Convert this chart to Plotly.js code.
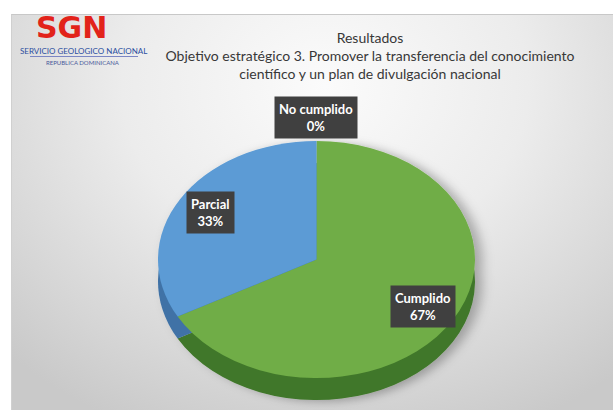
<!DOCTYPE html>
<html>
<head>
<meta charset="utf-8">
<script src="https://cdn.plot.ly/plotly-3.0.1.min.js"></script>
<style>
  html, body { margin:0; padding:0; background:#ffffff; }
  #wrap { position:relative; width:613px; height:410px; background:#ffffff; overflow:hidden; }
  #bg { position:absolute; left:11px; top:14px; width:602px; height:396px;
        background: radial-gradient(ellipse 75% 95% at 52% 18%, #fbfbfb 0%, #ececec 45%, #d6d6d6 80%, #c9c9c9 100%);
        border-top:1px solid #c8c8c8; border-left:1px solid #d0d0d0; }
  #chart { position:absolute; left:0; top:0; width:613px; height:410px; }
</style>
</head>
<body>
<div id="wrap"><div id="bg"></div><div id="chart"></div></div>
<script>
// ---- data ----
const categories = ['Cumplido', 'Parcial', 'No cumplido'];
const values = [67, 33, 0];
const topColors = ['#70ad47', '#5b9bd5', '#a5a5a5'];
const sideColors = ['#40772a', '#3f72a6', '#7a7a7a'];
const titleLines = ['Resultados',
  'Objetivo estratégico 3. Promover la transferencia del conocimiento',
  'científico y un plan de divulgación nacional'];
const logoMain = 'SGN';
const logoSub = 'SERVICIO GEOLOGICO NACIONAL';
const logoSub2 = 'REPUBLICA DOMINICANA';

// ---- geometry (pixels) ----
const W = 613, H = 410;
const cxF = 316.5, cyF = 259.5;   // final center of top face
const R = 158.5;                  // horizontal radius
const squash = 0.748;             // vertical / horizontal
const depth = 22;                 // visible thickness after squash
const cyP = 205;                  // plotly (unsquashed) center from top
const depthP = depth / squash;

function dom(cyTop) {
  const yb = H - cyTop;
  return { x: [(cxF - R) / W, (cxF + R) / W], y: [(yb - R) / H, (yb + R) / H] };
}

const total = values.reduce((a, b) => a + b, 0);

const sideTrace = {
  type: 'pie', values: values, labels: categories, sort: false,
  direction: 'clockwise', rotation: 0, textinfo: 'none', hoverinfo: 'skip',
  marker: { colors: sideColors, line: { width: 0 } },
  domain: dom(cyP + depthP), showlegend: false
};
const topTrace = {
  type: 'pie', values: values, labels: categories, sort: false,
  direction: 'clockwise', rotation: 0, textinfo: 'none', hoverinfo: 'skip',
  marker: { colors: topColors, line: { width: 0 } },
  domain: dom(cyP), showlegend: false
};

// data labels placed along each slice bisector on the ellipse
const annotations = [];
let cum = 0;
values.forEach((v, i) => {
  const mid = (cum + v / 2) / total * 2 * Math.PI;
  cum += v;
  const k = v > 0 ? 0.78 : 1.2;
  const px = cxF + k * R * Math.sin(mid);
  const py = cyF - k * R * squash * Math.cos(mid);
  annotations.push({
    xref: 'paper', yref: 'paper', x: px / W, y: 1 - py / H,
    xanchor: 'center', yanchor: 'middle', showarrow: false,
    text: '<b>' + categories[i] + '<br>' + Math.round(v / total * 100) + '%</b>',
    font: { family: 'Lato, "Open Sans", sans-serif', size: 13, color: '#ffffff' },
    bgcolor: '#404040', borderpad: 4, align: 'center'
  });
});

// logo
annotations.push({ xref: 'paper', yref: 'paper', x: 71 / W, y: 1 - 27.5 / H, xanchor: 'center', yanchor: 'middle',
  showarrow: false, text: '<b>' + logoMain + '</b>',
  font: { family: '"DejaVu Sans", sans-serif', size: 30, color: '#e2231a' } });
annotations.push({ xref: 'paper', yref: 'paper', x: 83 / W, y: 1 - 51 / H, xanchor: 'center', yanchor: 'middle',
  showarrow: false, text: logoSub,
  font: { family: 'Lato, sans-serif', size: 8, color: '#2b4fa0' } });
annotations.push({ xref: 'paper', yref: 'paper', x: 83 / W, y: 1 - 62 / H, xanchor: 'center', yanchor: 'middle',
  showarrow: false, text: logoSub2,
  font: { family: 'Lato, sans-serif', size: 6, color: '#4a5a9a' } });

const layout = {
  width: W, height: H,
  margin: { l: 0, r: 0, t: 0, b: 0, pad: 0 },
  paper_bgcolor: 'rgba(0,0,0,0)', plot_bgcolor: 'rgba(0,0,0,0)',
  showlegend: false,
  title: {
    text: titleLines.join('<br>'),
    x: 370 / W, xanchor: 'center', y: 1 - 43 / H, yanchor: 'top',
    font: { family: 'Lato, "Open Sans", sans-serif', size: 14, color: '#383838' }
  },
  shapes: [{ type: 'line', xref: 'paper', yref: 'paper', x0: 30 / W, x1: 138 / W,
    y0: 1 - 56.5 / H, y1: 1 - 56.5 / H, line: { color: '#7b86c4', width: 1 } }],
  annotations: annotations
};

Plotly.newPlot('chart', [sideTrace, topTrace], layout, { staticPlot: true, displayModeBar: false }).then(gd => {
  const pl = gd.querySelector('.pielayer');
  if (!pl) return;
  const ty = cyF - squash * cyP;
  pl.setAttribute('transform', 'translate(0,' + ty + ') scale(1,' + squash + ')');
  // soft shadow
  const svg = gd.querySelector('svg.main-svg');
  const ns = 'http://www.w3.org/2000/svg';
  const defs = document.createElementNS(ns, 'defs');
  const f = document.createElementNS(ns, 'filter');
  f.setAttribute('id', 'pieShadow');
  f.setAttribute('x', '-20%'); f.setAttribute('y', '-20%');
  f.setAttribute('width', '140%'); f.setAttribute('height', '140%');
  const ds = document.createElementNS(ns, 'feDropShadow');
  ds.setAttribute('dx', '7'); ds.setAttribute('dy', '2');
  ds.setAttribute('stdDeviation', '6');
  ds.setAttribute('flood-color', '#000'); ds.setAttribute('flood-opacity', '0.28');
  f.appendChild(ds); defs.appendChild(f); svg.insertBefore(defs, svg.firstChild);
  pl.setAttribute('filter', 'url(#pieShadow)');
});
</script>
</body>
</html>
